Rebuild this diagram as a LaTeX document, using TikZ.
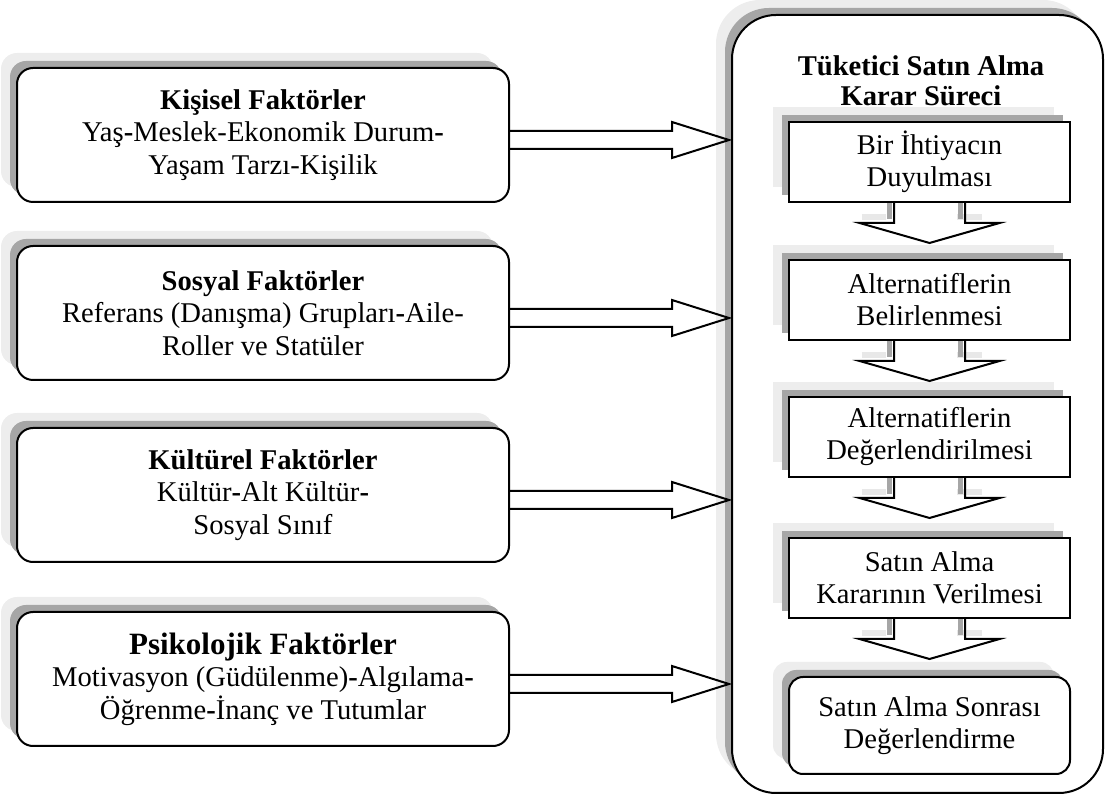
\documentclass[tikz,border=0pt]{standalone}
\usepackage{fontspec}
\setmainfont{Liberation Serif}
\usepackage{tikz}
\usetikzlibrary{positioning, shadows}
\pgfdeclarelayer{arka}
\pgfsetlayers{arka,main}
\tikzstyle{golgeli} = [general shadow={fill=black!7, shadow xshift=-8pt, shadow yshift=7.5pt}, general shadow={fill=black!35, shadow xshift=-3.5pt, shadow yshift=3.5pt}]
\tikzstyle{faktor} = [rectangle, rounded corners=8pt, draw, line width=1pt, fill=white, golgeli, minimum width=246pt, minimum height=67pt, align=center, font=\fontsize{14.3pt}{16.3pt}\selectfont]
\tikzstyle{adim} = [rectangle, draw, line width=1pt, fill=white, golgeli, minimum width=140.5pt, minimum height=40pt, align=center, font=\fontsize{14.3pt}{16pt}\selectfont]
\tikzstyle{anakutu} = [rectangle, rounded corners=22pt, draw, line width=1pt, fill=white, golgeli, minimum width=185.5pt, minimum height=389pt]
\tikzstyle{blok} = [draw, line width=1pt, line join=miter]
\tikzstyle{koyugolge} = [draw=black!35, line width=2.5pt, transform canvas={shift={(-2.5pt,2pt)}}]
\tikzstyle{acikgolge} = [draw=black!9, line width=3pt, transform canvas={shift={(-4pt,3pt)}}]
\newcommand{\yanok}[2]{%
  \draw [blok] ([yshift=2pt]#1.east) -- ([xshift=-29.5pt,yshift=2pt]#1.east -| #2.west) -- ++(0,4.5pt) -- ([xshift=-1pt,yshift=-2.5pt]#1.east -| #2.west) -- ([xshift=-29.5pt,yshift=-11.5pt]#1.east -| #2.west) -- ++(0,4.5pt) -- ([yshift=-7pt]#1.east);}
\newcommand{\asagiok}[1]{%
  \draw [blok] ([xshift=-17.75pt]#1.south) -- ++(0,-10pt) -- ++(-17.25pt,0) -- ([yshift=-20pt]#1.south) -- ([xshift=35pt,yshift=-10pt]#1.south) -- ++(-17.25pt,0) -- ([xshift=17.75pt]#1.south);}
\newcommand{\okgolge}[1]{%
  \draw [acikgolge] ([xshift=-30pt,yshift=-10pt]#1.south) -- ++(12.25pt,0) ([xshift=17.75pt,yshift=-10pt]#1.south) -- ++(12.25pt,0);
  \draw [koyugolge] ([xshift=-17.75pt,yshift=-10pt]#1.south) -- ([xshift=-17.75pt]#1.south) ([xshift=17.75pt]#1.south) -- ++(0,-10pt);}

\begin{document}
\begin{tikzpicture}[x=0.5pt, y=-0.5pt]
    \useasboundingbox (0,0) rectangle (1105,796);
    \begin{pgfonlayer}{arka}
        \node (surec) [anakutu] at (917.5,404) {};
    \end{pgfonlayer}
    \node (baslik) [align=center, font=\fontsize{14.3pt}{15pt}\selectfont\bfseries] at (921,81) {Tüketici Satın Alma\\Karar Süreci};

    \node (kisisel) [faktor] at (263,135) {\textbf{Kişisel Faktörler}\\Yaş\textbf{-}Meslek-Ekonomik Durum\textbf{-}\\Yaşam Tarzı-Kişilik};
    \node (sosyal) [faktor, below = 21pt of kisisel] {\textbf{Sosyal Faktörler}\\Referans (Danışma) Grupları\textbf{-}Aile-\\Roller ve Statüler};
    \node (kulturel) [faktor, below = 23pt of sosyal] {\textbf{Kültürel Faktörler}\\Kültür\textbf{-}Alt Kültür\textbf{-}\\Sosyal Sınıf};
    \node (psikolojik) [faktor, below = 24pt of kulturel] {{\fontsize{15.5pt}{17pt}\selectfont\bfseries Psikolojik Faktörler}\\Motivasyon (Güdülenme)\textbf{-}Algılama\textbf{-}\\Öğrenme\textbf{-}İnanç ve Tutumlar};

    \node (ihtiyac) [adim] at (929.5,162) {Bir İhtiyacın\\Duyulması};
    \node (belirleme) [adim, below = 28pt of ihtiyac] {Alternatiflerin\\Belirlenmesi};
    \node (degerleme) [adim, below = 27.5pt of belirleme] {Alternatiflerin\\Değerlendirilmesi};
    \node (karar) [adim, below = 29.5pt of degerleme] {Satın Alma\\Kararının Verilmesi};
    \node (sonrasi) [adim, rounded corners=7pt, minimum height=48.5pt, below = 28.5pt of karar] {Satın Alma Sonrası\\Değerlendirme};

    \begin{pgfonlayer}{arka}
        \okgolge{ihtiyac}
        \okgolge{belirleme}
        \okgolge{degerleme}
        \okgolge{karar}
    \end{pgfonlayer}

    \yanok{kisisel}{surec}
    \yanok{sosyal}{surec}
    \yanok{kulturel}{surec}
    \yanok{psikolojik}{surec}
    \asagiok{ihtiyac}
    \asagiok{belirleme}
    \asagiok{degerleme}
    \asagiok{karar}
\end{tikzpicture}
\end{document}
